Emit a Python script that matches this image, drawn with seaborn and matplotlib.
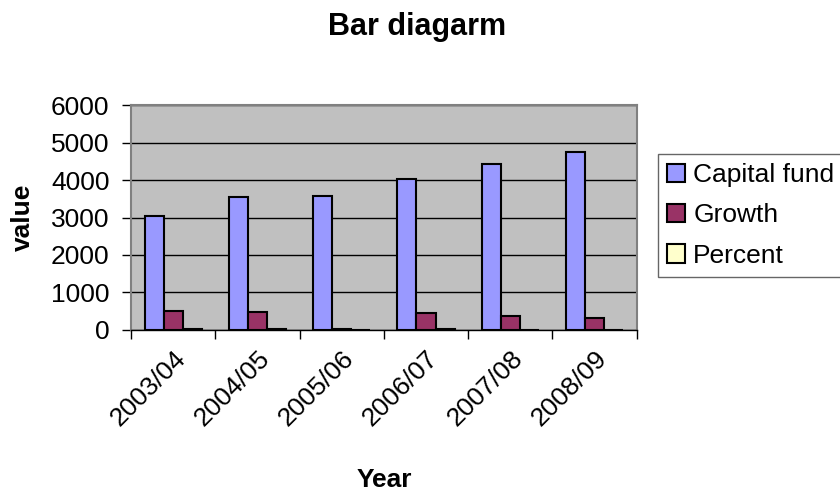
import numpy as np
import pandas as pd
import seaborn as sns
import matplotlib.pyplot as plt
from matplotlib.patches import Patch

sns.set_theme(style="white")
plt.rcParams['font.family'] = ['Liberation Sans', 'DejaVu Sans']
plt.rcParams.update({"text.color": "black", "axes.labelcolor": "black",
                     "xtick.color": "black", "ytick.color": "black"})

years = ["2003/04", "2004/05", "2005/06", "2006/07", "2007/08", "2008/09"]
capital = [3050, 3540, 3575, 4035, 4420, 4755]
growth = [505, 490, 15, 455, 375, 320]
percent = [16, 14, 0.4, 13, 9, 7]
series = ["Capital fund", "Growth", "Percent"]
colors = ["#9999FF", "#993366", "#FFFFCC"]

df = pd.DataFrame({
    "Year": years * 3,
    "value": capital + growth + percent,
    "Metric": [s for s in series for _ in years],
})

fig = plt.figure(figsize=(8.4, 4.91), dpi=100)
ax = fig.add_axes([0.156, 0.328, 0.602, 0.458])

sns.barplot(data=df, x="Year", y="value", hue="Metric", palette=colors,
            width=0.68, edgecolor="black", linewidth=1.5, ax=ax,
            legend=False, saturation=1)

ax.set_facecolor("#C0C0C0")
ax.set_ylim(0, 6000)
ax.set_xlim(-0.5, len(years) - 0.5)
ax.set_yticks(range(0, 6001, 1000))
ax.yaxis.grid(True, color="black", linewidth=1)
ax.set_axisbelow(True)

ax.set_xticks(range(len(years)))
ax.set_xticklabels(years, rotation=45, ha="right", rotation_mode="anchor",
                   fontsize=19)
ax.set_xticks(np.arange(-0.5, len(years)), minor=True)
ax.tick_params(axis="x", which="major", length=0, pad=12)
ax.tick_params(axis="x", which="minor", length=6.5, color="black", width=1,
               direction="out", bottom=True)
ax.tick_params(axis="y", length=6.5, color="black", width=1, direction="out",
               left=True, labelsize=19, pad=9)

for side in ["top", "right", "left"]:
    ax.spines[side].set_color("#808080")
    ax.spines[side].set_linewidth(1.5)
ax.spines["bottom"].set_color("black")
ax.spines["bottom"].set_linewidth(1)

ax.set_xlabel("")
ax.set_ylabel("")
fig.text(384 / 840, 1 - 487 / 491, "Year", fontsize=19, fontweight="bold",
         ha="center", va="baseline")
fig.text(22.5 / 840, 1 - 217 / 491, "value", fontsize=19, fontweight="bold",
         ha="center", va="center", rotation=90)
fig.text(0.496, 1 - 35 / 491, "Bar diagarm", fontsize=22, fontweight="bold",
         ha="center", va="baseline")

handles = [Patch(facecolor=c, edgecolor="black", linewidth=1.5, label=s)
           for s, c in zip(series, colors)]
leg = fig.legend(handles=handles, loc="lower left",
                 bbox_to_anchor=(0.783, 1 - 277 / 491),
                 frameon=True, fancybox=False, edgecolor="#404040",
                 fontsize=19, handlelength=0.7, handleheight=0.7,
                 handletextpad=0.3, labelspacing=0.62, borderaxespad=0,
                 borderpad=0.35)
leg.get_frame().set_linewidth(1)

fig.savefig("out.png", dpi=100)
